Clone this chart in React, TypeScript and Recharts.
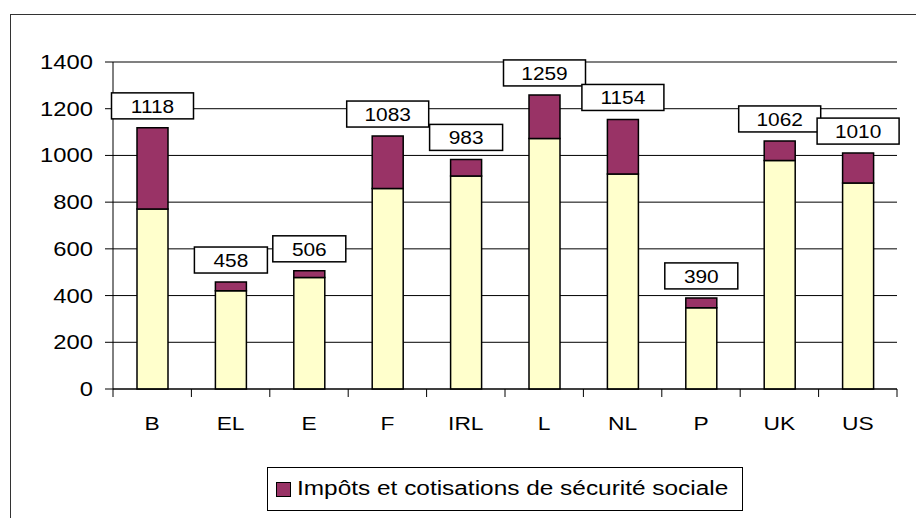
import React from 'react';
import { BarChart, Bar, XAxis, YAxis, CartesianGrid, Legend, LabelList, ReferenceLine } from 'recharts';

const categories = ['B', 'EL', 'E', 'F', 'IRL', 'L', 'NL', 'P', 'UK', 'US'];
const netValues = [771, 421, 477, 858, 912, 1072, 921, 348, 978, 882];
const taxValues = [347, 37, 29, 225, 71, 187, 233, 42, 84, 128];
const totalLabels = [1118, 458, 506, 1083, 983, 1259, 1154, 390, 1062, 1010];
const yTicks = [0, 200, 400, 600, 800, 1000, 1200, 1400];
const legendLabel = 'Impôts et cotisations de sécurité sociale';
const netLabel = 'Revenu net';

const data = categories.map((c, i) => ({
  name: c,
  net: netValues[i],
  tax: taxValues[i],
  total: totalLabels[i],
}));

const FONT = '"Liberation Sans", Arial, sans-serif';
const CHART_W = 916;
const CHART_H = 518;
const MARGIN = { top: 62, right: 19, left: 0, bottom: 7 };
const YAXIS_W = 113;
const PLOT_W = CHART_W - MARGIN.left - YAXIS_W - MARGIN.right;
const STEP = PLOT_W / categories.length;

const YTick = (props: any) => {
  const { x, y, payload } = props;
  return (
    <text
      transform={`translate(${x},${y}) scale(1.22,1)`}
      dy="0.355em"
      textAnchor="end"
      fontSize={19.5}
      fontFamily={FONT}
      fill="#000"
    >
      {payload.value}
    </text>
  );
};

const XTick = (props: any) => {
  const { x, y, payload, index } = props;
  const left = x - STEP / 2;
  const right = x + STEP / 2;
  return (
    <g>
      <line x1={left} x2={left} y1={y} y2={y + 8} stroke="#000" strokeWidth={1} />
      {index === categories.length - 1 && (
        <line x1={right} x2={right} y1={y} y2={y + 8} stroke="#000" strokeWidth={1} />
      )}
      <text
        transform={`translate(${x},${y + 40.5}) scale(1.2,1)`}
        textAnchor="middle"
        fontSize={19}
        fontFamily={FONT}
        fill="#000"
      >
        {payload.value}
      </text>
    </g>
  );
};

const TotalLabel = (props: any) => {
  const { x, y, width, value } = props;
  const s = String(value);
  const w = 46 + 9 * s.length;
  const h = 26;
  const cx = Number(x) + Number(width) / 2;
  const bottom = Number(y) - 9;
  return (
    <g>
      <rect x={cx - w / 2} y={bottom - h} width={w} height={h} fill="#fff" stroke="#000" strokeWidth={1.5} />
      <text
        transform={`translate(${cx},${bottom - 6}) scale(1.16,1)`}
        textAnchor="middle"
        fontSize={18}
        fontFamily={FONT}
        fill="#000"
      >
        {s}
      </text>
    </g>
  );
};

const LegendBox = () => (
  <div
    style={{
      boxSizing: 'border-box',
      width: 476,
      height: 44,
      border: '1.5px solid #000',
      background: '#fff',
      position: 'relative',
      fontFamily: FONT,
    }}
  >
    <span
      style={{
        position: 'absolute',
        left: 8,
        top: 13.5,
        width: 15,
        height: 15,
        boxSizing: 'border-box',
        background: '#993366',
        border: '1.5px solid #000',
      }}
    />
    <span
      style={{
        position: 'absolute',
        left: 29,
        top: 0,
        fontSize: 20,
        lineHeight: '41px',
        transform: 'scaleX(1.22)',
        transformOrigin: 'left center',
        whiteSpace: 'nowrap',
        color: '#000',
      }}
    >
      {legendLabel}
    </span>
  </div>
);

export default function App() {
  return (
    <div
      style={{
        position: 'absolute',
        left: 0,
        top: 0,
        width: CHART_W,
        height: CHART_H,
        overflow: 'hidden',
        background: '#fff',
      }}
    >
      <div
        style={{
          position: 'absolute',
          left: 10,
          top: 14,
          width: 1000,
          height: 1000,
          borderTop: '1.5px solid #333',
          borderLeft: '1.5px solid #333',
        }}
      />
      <BarChart width={CHART_W} height={CHART_H} data={data} margin={MARGIN} barSize={31}>
        <CartesianGrid horizontal vertical={false} stroke="#000" strokeWidth={1} />
        <XAxis
          dataKey="name"
          height={78}
          interval={0}
          tickLine={false}
          tickSize={0}
          tickMargin={0}
          axisLine={{ stroke: '#000', strokeWidth: 1 }}
          tick={<XTick />}
        />
        <YAxis
          width={YAXIS_W}
          domain={[0, 1400]}
          ticks={yTicks}
          interval={0}
          tickSize={8}
          tickMargin={12}
          tickLine={{ stroke: '#000' }}
          axisLine={{ stroke: '#000', strokeWidth: 1 }}
          tick={<YTick />}
        />
        <YAxis
          yAxisId="right"
          orientation="right"
          width={0}
          domain={[0, 1400]}
          tick={false}
          tickLine={false}
          axisLine={{ stroke: '#808080', strokeWidth: 2 }}
        />
        <ReferenceLine y={1400} stroke="#808080" strokeWidth={2} />
        <Legend
          verticalAlign="bottom"
          wrapperStyle={{ left: 267, width: 476 }}
          content={() => <LegendBox />}
        />
        <Bar
          dataKey="net"
          name={netLabel}
          stackId="a"
          fill="#FFFFCC"
          stroke="#000"
          strokeWidth={1.5}
          isAnimationActive={false}
        />
        <Bar
          dataKey="tax"
          name={legendLabel}
          stackId="a"
          fill="#993366"
          stroke="#000"
          strokeWidth={1.5}
          isAnimationActive={false}
        >
          <LabelList dataKey="total" content={<TotalLabel />} />
        </Bar>
      </BarChart>
    </div>
  );
}
